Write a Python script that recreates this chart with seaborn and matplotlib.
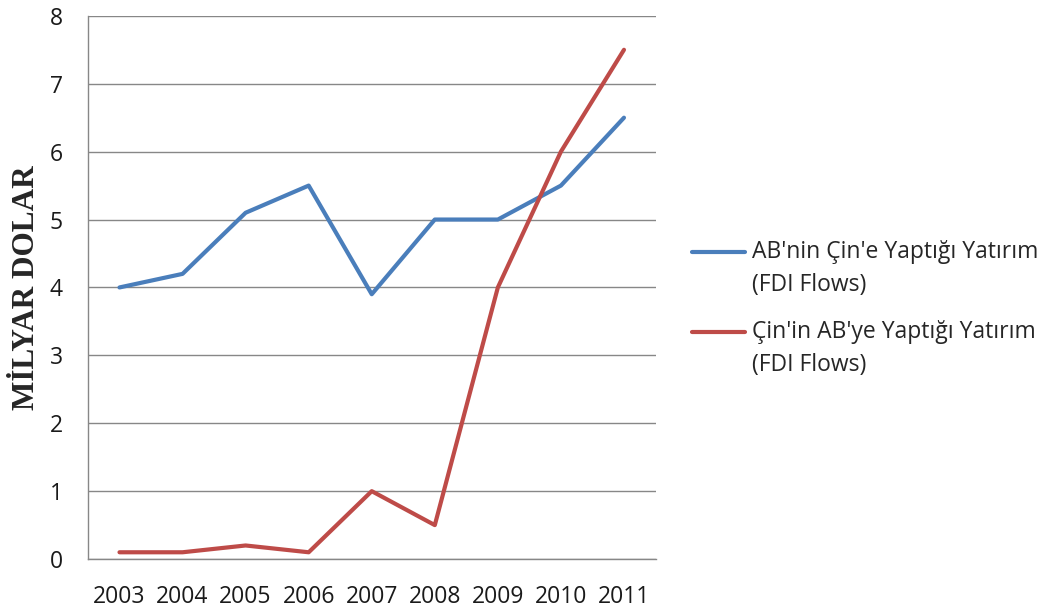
import pandas as pd
import numpy as np
import matplotlib
matplotlib.use('Agg')
import matplotlib.pyplot as plt
import seaborn as sns
from matplotlib.legend_handler import HandlerLine2D

# veriler
yillar = ['2003', '2004', '2005', '2006', '2007', '2008', '2009', '2010', '2011']
ab_cin = [4.0, 4.2, 5.1, 5.5, 3.9, 5.0, 5.0, 5.5, 6.5]
cin_ab = [0.1, 0.1, 0.2, 0.1, 1.0, 0.5, 4.0, 6.0, 7.5]
seri_adlari = ["AB'nin Çin'e Yaptığı Yatırım\n(FDI Flows)",
               "Çin'in AB'ye Yaptığı Yatırım\n(FDI Flows)"]
renkler = ['#4A7EBB', '#BE4B48']

df = pd.DataFrame({
    'Yil': yillar * 2,
    'Deger': ab_cin + cin_ab,
    'Seri': [seri_adlari[0]] * len(yillar) + [seri_adlari[1]] * len(yillar),
})

ARALIK = 1.5  # lejant satir araligi


# lejant cizgisini ilk satira hizala (Excel gibi)
class UstHandler(HandlerLine2D):
    def create_artists(self, legend, orig_handle, xdescent, ydescent,
                       width, height, fontsize, trans):
        arts = super().create_artists(legend, orig_handle, xdescent, ydescent,
                                      width, height, fontsize, trans)
        for a in arts:
            a.set_ydata(np.asarray(a.get_ydata()) + 0.5 * ARALIK * fontsize)
        return arts


sns.set_style('white')
plt.rcParams['font.family'] = ['Open Sans', 'DejaVu Sans']

fig = plt.figure(figsize=(10.51, 6.09), dpi=100)
ax = fig.add_axes([0.0837, 0.082, 0.540, 0.892])

sns.lineplot(data=df, x='Yil', y='Deger', hue='Seri', palette=renkler,
             linewidth=3, sort=False, ax=ax)

ax.set_xlim(-0.5, 8.5)
ax.set_ylim(0, 8)
ax.set_yticks(range(0, 9))
ax.grid(axis='y', color='#878787', linewidth=1)
ax.set_axisbelow(True)
for s in ['top', 'right']:
    ax.spines[s].set_visible(False)
for s in ['left', 'bottom']:
    ax.spines[s].set_color('#878787')
    ax.spines[s].set_linewidth(1)
ax.tick_params(axis='both', length=0, labelsize=16.5, colors='#1a1a1a')
ax.tick_params(axis='x', pad=19)
ax.tick_params(axis='y', pad=18)

ax.set_xlabel('')
ax.set_ylabel('MİLYAR DOLAR', family=['Liberation Serif', 'DejaVu Serif'],
              fontweight='bold', fontsize=22.5)
ax.yaxis.set_label_coords(-0.083, 0.5)

handles, labels = ax.get_legend_handles_labels()
leg = ax.legend(handles, labels, loc='center left', bbox_to_anchor=(1.028, 0.461),
                frameon=False, fontsize=16.5, handlelength=2.3,
                labelspacing=1.0, handletextpad=0.3,
                handler_map={type(handles[0]): UstHandler()})
for t in leg.get_texts():
    t.set_linespacing(ARALIK)

fig.savefig('out.png', dpi=100)
